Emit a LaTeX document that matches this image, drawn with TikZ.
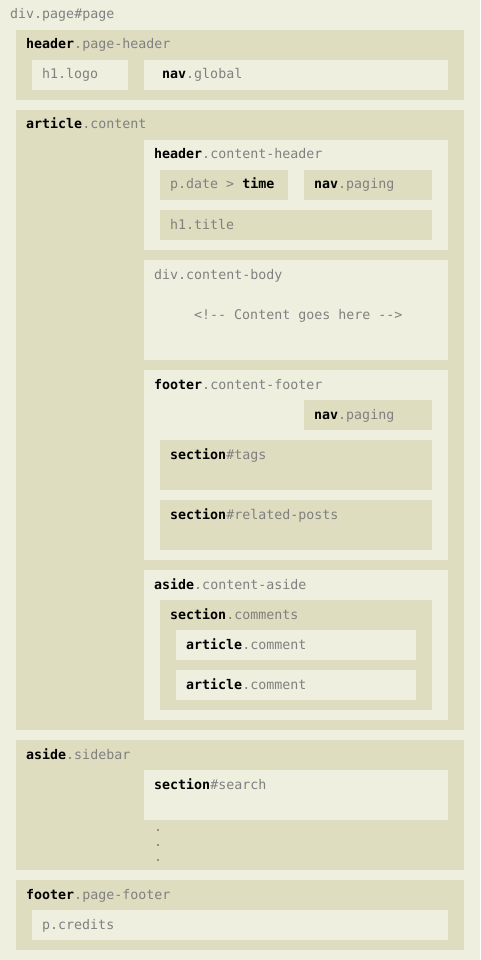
\documentclass[tikz,border=0pt]{standalone}
\usepackage{fontspec}
\setmonofont{DejaVu Sans Mono}
\definecolor{pagebg}{RGB}{239,239,224}
\definecolor{boxbg}{RGB}{222,221,192}
\definecolor{classgray}{RGB}{128,128,128}
\newcommand{\eltag}[2]{\textbf{\color{black}#1}\textcolor{classgray}{#2}}
\begin{document}
\begin{tikzpicture}[x=1pt,y=-1pt,
    every node/.style={font=\ttfamily\fontsize{13.3}{15}\selectfont, text=classgray},
    darkbox/.style={fill=boxbg, anchor=north west, inner sep=0pt, outer sep=0pt},
    lightbox/.style={fill=pagebg, anchor=north west, inner sep=0pt, outer sep=0pt},
    lbl/.style={anchor=base west, inner sep=0pt}]
    \useasboundingbox (0,0) rectangle (480,960);
    \fill[pagebg] (0,0) rectangle (480,960);

    \node[lbl] (pagelbl) at (10,19) {div.page\#page};

    % page header
    \node[darkbox, minimum width=448pt, minimum height=70pt] (pghead) at (16,30) {};
    \node[lbl] (pgheadlbl) at (26,49) {\eltag{header}{.page-header}};
    \node[lightbox, minimum width=96pt, minimum height=30pt] (logo) at (32,60) {};
    \node[lbl] (logolbl) at (42,79) {h1.logo};
    \node[lightbox, minimum width=304pt, minimum height=30pt] (nav) at (144,60) {};
    \node[lbl] (navlbl) at (162,79) {\eltag{nav}{.global}};

    % article
    \node[darkbox, minimum width=448pt, minimum height=620pt] (art) at (16,110) {};
    \node[lbl] (artlbl) at (26,129) {\eltag{article}{.content}};

    \node[lightbox, minimum width=304pt, minimum height=110pt] (chead) at (144,140) {};
    \node[lbl] (cheadlbl) at (154,159) {\eltag{header}{.content-header}};
    \node[darkbox, minimum width=128pt, minimum height=30pt] (date) at (160,170) {};
    \node[lbl] (datelbl) at (170,189) {p.date > \textbf{\color{black}time}};
    \node[darkbox, minimum width=128pt, minimum height=30pt] (paging) at (304,170) {};
    \node[lbl] (paginglbl) at (314,189) {\eltag{nav}{.paging}};
    \node[darkbox, minimum width=272pt, minimum height=30pt] (title) at (160,210) {};
    \node[lbl] (titlelbl) at (170,229) {h1.title};

    \node[lightbox, minimum width=304pt, minimum height=100pt] (cbody) at (144,260) {};
    \node[lbl] (cbodylbl) at (154,279) {div.content-body};
    \node[lbl] (cbodytxt) at (194,319) {<!-{}- Content goes here -{}->};

    \node[lightbox, minimum width=304pt, minimum height=190pt] (cfoot) at (144,370) {};
    \node[lbl] (cfootlbl) at (154,389) {\eltag{footer}{.content-footer}};
    \node[darkbox, minimum width=128pt, minimum height=30pt] (paging2) at (304,400) {};
    \node[lbl] (paging2lbl) at (314,419) {\eltag{nav}{.paging}};
    \node[darkbox, minimum width=272pt, minimum height=50pt] (tags) at (160,440) {};
    \node[lbl] (tagslbl) at (170,459) {\eltag{section}{\#tags}};
    \node[darkbox, minimum width=272pt, minimum height=50pt] (related) at (160,500) {};
    \node[lbl] (relatedlbl) at (170,519) {\eltag{section}{\#related-posts}};

    \node[lightbox, minimum width=304pt, minimum height=150pt] (caside) at (144,570) {};
    \node[lbl] (casidelbl) at (154,589) {\eltag{aside}{.content-aside}};
    \node[darkbox, minimum width=272pt, minimum height=110pt] (comments) at (160,600) {};
    \node[lbl] (commentslbl) at (170,619) {\eltag{section}{.comments}};
    \node[lightbox, minimum width=240pt, minimum height=30pt] (comment1) at (176,630) {};
    \node[lbl] (comment1lbl) at (186,649) {\eltag{article}{.comment}};
    \node[lightbox, minimum width=240pt, minimum height=30pt] (comment2) at (176,670) {};
    \node[lbl] (comment2lbl) at (186,689) {\eltag{article}{.comment}};

    % sidebar
    \node[darkbox, minimum width=448pt, minimum height=130pt] (side) at (16,740) {};
    \node[lbl] (sidelbl) at (26,759) {\eltag{aside}{.sidebar}};
    \node[lightbox, minimum width=304pt, minimum height=50pt] (search) at (144,770) {};
    \node[lbl] (searchlbl) at (154,789) {\eltag{section}{\#search}};
    \foreach \i in {0,1,2}
        \node[lbl] (dot\i) at (154,{831+15*\i}) {.};

    % page footer
    \node[darkbox, minimum width=448pt, minimum height=70pt] (pgfoot) at (16,880) {};
    \node[lbl] (pgfootlbl) at (26,899) {\eltag{footer}{.page-footer}};
    \node[lightbox, minimum width=416pt, minimum height=30pt] (credits) at (32,910) {};
    \node[lbl] (creditslbl) at (42,929) {p.credits};
\end{tikzpicture}
\end{document}
